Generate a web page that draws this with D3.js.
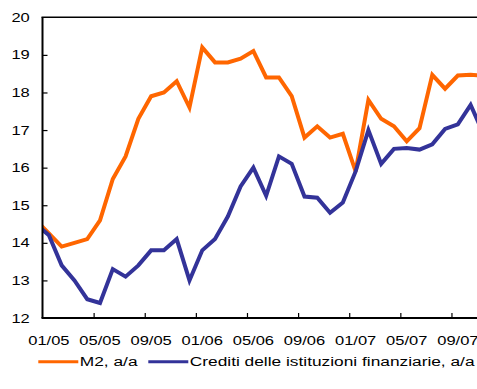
<!DOCTYPE html>
<html>
<head>
<meta charset="utf-8">
<script src="https://cdn.jsdelivr.net/npm/d3@7"></script>
<style>
  html, body { margin: 0; padding: 0; background: #fff; }
  svg { display: block; }
  text { font-family: "Liberation Sans", Arial, sans-serif; fill: #000; }
</style>
</head>
<body>
<svg id="chart" width="477" height="389"></svg>
<script>
// Monthly observations, Dec 2004 onwards (year-on-year growth, %)
const months = ["12/04","01/05","02/05","03/05","04/05","05/05","06/05","07/05","08/05","09/05","10/05","11/05","12/05",
                "01/06","02/06","03/06","04/06","05/06","06/06","07/06","08/06","09/06","10/06","11/06","12/06",
                "01/07","02/07","03/07","04/07","05/07","06/07","07/07","08/07","09/07","10/07","11/07"];
const m2 = [14.6, 14.25, 13.9, 14.0, 14.1, 14.6, 15.7, 16.3, 17.3, 17.9, 18.0, 18.3, 17.6,
            19.2, 18.8, 18.8, 18.9, 19.1, 18.4, 18.4, 17.9, 16.8, 17.1, 16.8, 16.9,
            15.9, 17.8, 17.3, 17.1, 16.7, 17.05, 18.47, 18.1, 18.45, 18.47, 18.45];
const crediti = [14.5, 14.2, 13.4, 13.0, 12.5, 12.4, 13.3, 13.1, 13.4, 13.8, 13.8, 14.1, 13.0,
                 13.8, 14.1, 14.7, 15.5, 16.0, 15.25, 16.3, 16.1, 15.23, 15.2, 14.8, 15.07,
                 15.9, 17.0, 16.1, 16.5, 16.52, 16.48, 16.62, 17.03, 17.15, 17.67, 16.9];
const xTickLabels = ["01/05","05/05","09/05","01/06","05/06","09/06","01/07","05/07","09/07"];
const yTicks = [12, 13, 14, 15, 16, 17, 18, 19, 20];
const seriesNames = ["M2, a/a", "Crediti delle istituzioni finanziarie, a/a"];
const seriesColors = ["#ff6600", "#333399"];

const W = 477, H = 389;
const plotLeft = 42.5, plotTop = 17.3, plotBottom = 318;

const svg = d3.select("#chart");

// x: months counted from the start of Jan 2005 (tick marks sit on month boundaries)
const x = d3.scaleLinear().domain([0, 36]).range([plotLeft, plotLeft + 12.78 * 36]);
const y = d3.scaleLinear().domain([12, 20]).range([plotBottom, plotTop]);

// month index of each observation: mid-month, Dec 2004 = -1
const pos = months.map((m, i) => i - 1 + 0.5);

svg.append("defs").append("clipPath").attr("id", "plotClip")
  .append("rect").attr("x", plotLeft).attr("y", 0).attr("width", W - plotLeft).attr("height", plotBottom);

const line = d3.line().x(d => x(d[0])).y(d => y(d[1]));
const plot = svg.append("g").attr("clip-path", "url(#plotClip)");
[m2, crediti].forEach((vals, s) => {
  plot.append("path")
    .datum(vals.map((v, i) => [pos[i], v]))
    .attr("d", line)
    .attr("fill", "none")
    .attr("stroke", seriesColors[s])
    .attr("stroke-width", 4)
    .attr("stroke-linejoin", "miter");
});

// axes with inward ticks
const yAxis = d3.axisLeft(y).tickValues(yTicks.slice(1, -1)).tickSize(-5).tickFormat("");
const gy = svg.append("g").attr("transform", `translate(${plotLeft},0)`).call(yAxis);
const xTickVals = xTickLabels.map((_, i) => i * 4);
const xAxis = d3.axisBottom(x).tickValues(xTickVals.slice(1)).tickSize(-5).tickFormat("");
const gx = svg.append("g").attr("transform", `translate(0,${plotBottom})`).call(xAxis);
[gy, gx].forEach(g => {
  g.select(".domain").remove();
  g.selectAll(".tick line").attr("stroke", "#000").attr("stroke-width", 1.2);
});

// frame: left axis, bottom axis, top edge
svg.append("line").attr("x1", plotLeft).attr("x2", plotLeft).attr("y1", plotTop).attr("y2", plotBottom)
  .attr("stroke", "#000").attr("stroke-width", 2);
svg.append("line").attr("x1", plotLeft - 1).attr("x2", W).attr("y1", plotBottom).attr("y2", plotBottom)
  .attr("stroke", "#000").attr("stroke-width", 2);
svg.append("line").attr("x1", plotLeft - 1).attr("x2", W).attr("y1", plotTop).attr("y2", plotTop)
  .attr("stroke", "#000").attr("stroke-width", 1.6);

// text with wide glyph proportions
function stretchedText(g, tx, ty, str, size, anchor, sx) {
  return g.append("text")
    .attr("transform", `translate(${tx},${ty}) scale(${sx},1)`)
    .attr("text-anchor", anchor)
    .attr("font-size", size)
    .text(str);
}

// y tick labels
const labels = svg.append("g");
yTicks.forEach(v => stretchedText(labels, 29.8, y(v) + 4.6, String(v), 13, "end", 1.27));

// x tick labels, centred on the labelled month
xTickLabels.forEach((lab, i) => stretchedText(labels, x(xTickVals[i] + 0.5), 344.5, lab, 13, "middle", 1.27));

// legend
const legend = svg.append("g");
const legendX = [38.3, 148.3];
seriesNames.forEach((name, s) => {
  legend.append("line")
    .attr("x1", legendX[s]).attr("x2", legendX[s] + 40)
    .attr("y1", 361.7).attr("y2", 361.7)
    .attr("stroke", seriesColors[s]).attr("stroke-width", 3);
  stretchedText(legend, legendX[s] + 41.5, 366, name, 13.5, "start", 1.283);
});
</script>
</body>
</html>
